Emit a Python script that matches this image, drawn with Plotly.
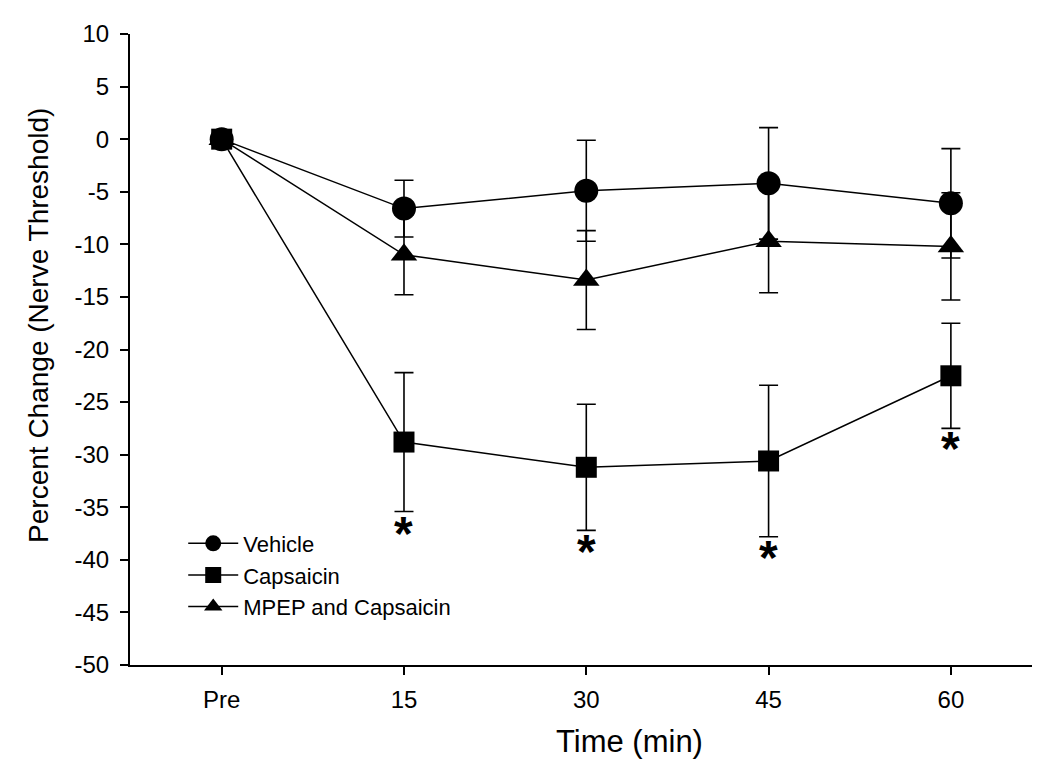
import plotly.graph_objects as go

time_labels = ["Pre", "15", "30", "45", "60"]
x_pos = [0, 1, 2, 3, 4]

vehicle = [0, -6.6, -4.9, -4.2, -6.1]
vehicle_err = [0, 2.7, 4.8, 5.3, 5.2]

capsaicin = [0, -28.8, -31.2, -30.6, -22.5]
capsaicin_err = [0, 6.6, 6.0, 7.2, 5.0]

mpep = [0, -11.0, -13.4, -9.7, -10.2]
mpep_err = [0, 3.8, 4.7, 4.9, 5.1]

asterisk_x = [1, 2, 3, 4]
asterisk_y = [-37.1, -38.8, -39.4, -29.0]

y_ticks = list(range(10, -55, -5))
y_tick_text = [str(v) for v in y_ticks]  # plain hyphen minus as in original

FONT = "Liberation Sans, Arial, sans-serif"

fig = go.Figure()

def add_series(name, y, err, symbol, size):
    fig.add_trace(go.Scatter(
        x=x_pos, y=y, name=name, mode="lines+markers",
        line=dict(color="black", width=1.5),
        marker=dict(symbol=symbol, size=size, color="black",
                    line=dict(width=0)),
        error_y=dict(type="data", array=err, visible=True,
                     color="black", thickness=1.6, width=9.5),
    ))

add_series("Vehicle", vehicle, vehicle_err, "circle", 24)
add_series("Capsaicin", capsaicin, capsaicin_err, "square", 21)
add_series("MPEP and Capsaicin", mpep, mpep_err, "triangle-up", 23)

# significance asterisks
for xa, ya in zip(asterisk_x, asterisk_y):
    fig.add_annotation(x=xa, y=ya, text="<b>*</b>", showarrow=False,
                       font=dict(family=FONT, size=48, color="black"),
                       xanchor="center", yanchor="middle", yshift=-4)

# axis titles
fig.add_annotation(xref="paper", yref="paper", x=0.554, y=-0.1207,
                   text="Time (min)", showarrow=False,
                   font=dict(family=FONT, size=31, color="black"),
                   xanchor="center", yanchor="middle")
fig.add_annotation(xref="paper", yref="paper", x=-0.1009, y=0.539,
                   text="Percent Change (Nerve Threshold)", showarrow=False,
                   textangle=-90,
                   font=dict(family=FONT, size=28, color="black"),
                   xanchor="center", yanchor="middle")

fig.update_layout(
    width=1042, height=761,
    margin=dict(l=122, r=18, t=19, b=104),
    plot_bgcolor="white", paper_bgcolor="white",
    font=dict(family=FONT, color="black"),
    showlegend=True,
    legend=dict(x=0.059, y=0.2258, xanchor="left", yanchor="top",
                bgcolor="rgba(0,0,0,0)", itemwidth=50,
                font=dict(family=FONT, size=22, color="black"),
                tracegroupgap=0),
    xaxis=dict(
        range=[-0.503, 4.445], tickmode="array", tickvals=x_pos,
        ticktext=time_labels, ticks="outside", ticklen=8, tickwidth=1.6,
        tickcolor="black", showline=True, linecolor="black", linewidth=2,
        showgrid=False, zeroline=False, ticklabelstandoff=4,
        tickfont=dict(family=FONT, size=24, color="black"),
    ),
    yaxis=dict(
        range=[-50, 10], tickmode="array", tickvals=y_ticks,
        ticktext=y_tick_text,
        ticks="outside", ticklen=8, tickwidth=1.6, tickcolor="black",
        showline=True, linecolor="black", linewidth=2,
        showgrid=False, zeroline=False, ticklabelstandoff=6,
        tickfont=dict(family=FONT, size=24, color="black"),
    ),
)

fig.write_html("out.html")
